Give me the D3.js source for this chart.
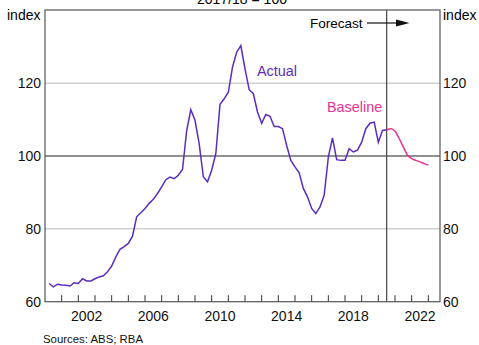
<!DOCTYPE html>
<html>
<head>
<meta charset="utf-8">
<script src="https://cdn.jsdelivr.net/npm/d3@7"></script>
<style>
  body { margin: 0; background: #fff; }
  text { font-family: "Liberation Sans", Arial, sans-serif; }
</style>
</head>
<body>
<script>
// quarterly index, 2017/18 = 100
const actualStart = 2000.25;
const actual = [65.0, 64.1, 64.8, 64.6, 64.5, 64.3, 65.2, 65.0, 66.3, 65.7,
  65.7, 66.3, 66.8, 67.1, 68.2, 69.8, 72.3, 74.4, 75.1, 76.0,
  78.0, 83.3, 84.4, 85.6, 87.0, 88.1, 89.7, 91.5, 93.5, 94.2,
  93.8, 94.7, 96.3, 107.0, 112.7, 109.8, 103.4, 94.3, 92.9, 96.1,
  100.7, 114.2, 115.7, 117.5, 124.4, 128.5, 130.3, 123.9, 118.2, 117.1,
  112.1, 109.0, 111.4, 110.9, 108.1, 108.1, 107.5, 102.9, 98.8, 97.0,
  95.4, 91.1, 88.8, 85.6, 84.2, 86.0, 89.2, 99.7, 105.0, 99.0,
  98.8, 98.8, 102.0, 101.1, 101.6, 103.8, 107.5, 109.0, 109.3, 103.8,
  107.0, 107.2];
const baselineStart = 2020.5;
const baseline = [107.2, 107.5, 106.8, 104.8, 102.5, 100.2, 99.3, 98.8, 98.4, 97.9, 97.5];
const forecastAt = 2020.5;
const yTicks = [60, 80, 100, 120];
const xLabels = [2002, 2006, 2010, 2014, 2018, 2022];
const xTickYears = d3.range(2001, 2024);

const W = 479, H = 345;
const pLeft = 45, pRight = 440, pTop = 10, pBottom = 301.7;

const svg = d3.select("body").append("svg")
  .attr("width", W).attr("height", H);

const x = d3.scaleLinear().domain([2000, 2023.7]).range([pLeft, pRight]);
const y = d3.scaleLinear().domain([60, 140]).range([pBottom, pTop + 0.3]);

// grid
svg.selectAll(".grid").data(yTicks.filter(d => d != 60 && d != 100))
  .enter().append("line")
  .attr("x1", pLeft).attr("x2", pRight)
  .attr("y1", d => y(d)).attr("y2", d => y(d))
  .attr("stroke", "#b8b8b8").attr("stroke-width", 1);

svg.append("line")
  .attr("x1", pLeft).attr("x2", pRight)
  .attr("y1", y(100)).attr("y2", y(100))
  .attr("stroke", "#222").attr("stroke-width", 1.2);

// forecast divider
svg.append("line")
  .attr("x1", x(forecastAt)).attr("x2", x(forecastAt))
  .attr("y1", pTop).attr("y2", pBottom)
  .attr("stroke", "#444").attr("stroke-width", 1.2);

// x ticks (inward)
svg.selectAll(".xt").data(xTickYears).enter().append("line")
  .attr("x1", d => x(d)).attr("x2", d => x(d))
  .attr("y1", pBottom).attr("y2", pBottom - 6.5)
  .attr("stroke", "#333").attr("stroke-width", 1);

// frame
svg.append("rect")
  .attr("x", pLeft).attr("y", pTop)
  .attr("width", pRight - pLeft).attr("height", pBottom - pTop)
  .attr("fill", "none").attr("stroke", "#555").attr("stroke-width", 1.2);

// lines
const line = d3.line().x(d => x(d.t)).y(d => y(d.v));

const actualData = actual.map((v, i) => ({t: actualStart + i * 0.25, v: v}));
const baseData = baseline.map((v, i) => ({t: baselineStart + i * 0.25, v: v}));

svg.append("path").datum(baseData)
  .attr("d", line.curve(d3.curveMonotoneX))
  .attr("fill", "none").attr("stroke", "#e8338f").attr("stroke-width", 1.5);

svg.append("path").datum(actualData)
  .attr("d", line.curve(d3.curveLinear))
  .attr("fill", "none").attr("stroke", "#5a2cc0").attr("stroke-width", 1.5);

// y labels
svg.selectAll(".yl").data(yTicks).enter().append("text")
  .attr("x", pLeft - 4).attr("y", d => y(d) + 5)
  .attr("text-anchor", "end").attr("font-size", 14).attr("fill", "#111")
  .text(d => d);
svg.selectAll(".yr").data(yTicks).enter().append("text")
  .attr("x", pRight + 3).attr("y", d => y(d) + 5)
  .attr("text-anchor", "start").attr("font-size", 14).attr("fill", "#111")
  .text(d => d);

// x labels
svg.selectAll(".xl").data(xLabels).enter().append("text")
  .attr("x", d => x(d + 0.5)).attr("y", 321)
  .attr("text-anchor", "middle").attr("font-size", 14).attr("fill", "#111")
  .text(d => d);

svg.append("text").attr("x", 7).attr("y", 20).attr("font-size", 14).text("index");
svg.append("text").attr("x", 443).attr("y", 20).attr("font-size", 14).text("index");
svg.append("text").attr("x", 242).attr("y", 4).attr("text-anchor", "middle")
  .attr("font-size", 14).text("2017/18 = 100");

// forecast label + arrow
svg.append("text").attr("x", 310).attr("y", 28).attr("font-size", 13.5).text("Forecast");
svg.append("line").attr("x1", 367).attr("x2", 398).attr("y1", 23).attr("y2", 23)
  .attr("stroke", "#111").attr("stroke-width", 1.2);
svg.append("path").attr("d", "M396,19.5 L409.5,23 L396,26.5 Z").attr("fill", "#111");

svg.append("text").attr("x", 257).attr("y", 76).attr("font-size", 14.4)
  .attr("fill", "#5a2cc0").text("Actual");
svg.append("text").attr("x", 327).attr("y", 112).attr("font-size", 14.4)
  .attr("fill", "#e8338f").text("Baseline");

svg.append("text").attr("x", 43).attr("y", 343).attr("font-size", 11.4)
  .attr("fill", "#111").text("Sources: ABS; RBA");
</script>
</body>
</html>
